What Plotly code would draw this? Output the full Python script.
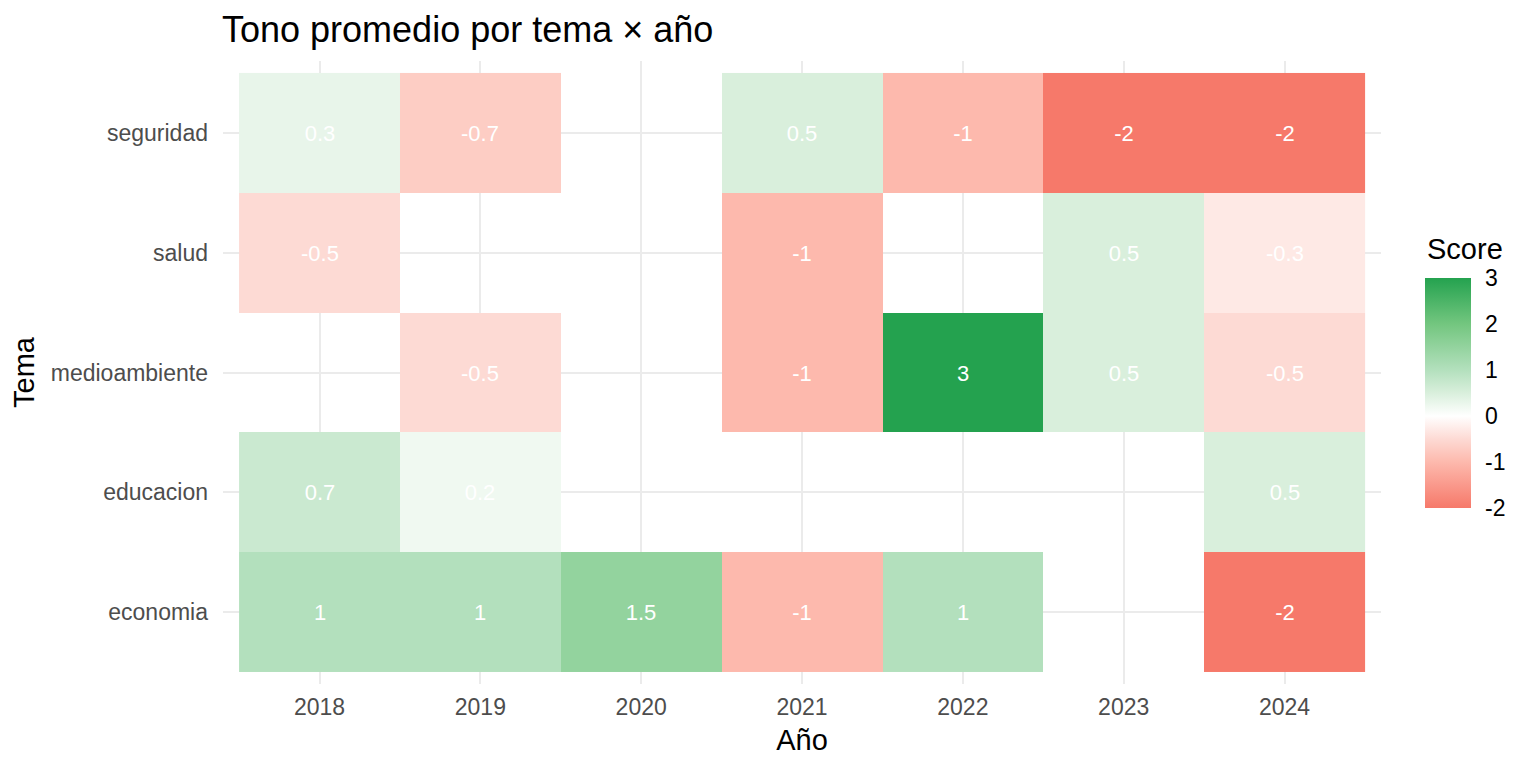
import plotly.graph_objects as go

# data
years = ["2018", "2019", "2020", "2021", "2022", "2023", "2024"]
temas = ["economia", "educacion", "medioambiente", "salud", "seguridad"]

economia = [1, 1, 1.5, -1, 1, None, -2]
educacion = [0.7, 0.2, None, None, None, None, 0.5]
medioambiente = [None, -0.5, None, -1, 3, 0.5, -0.5]
salud = [-0.5, None, None, -1, None, 0.5, -0.3]
seguridad = [0.3, -0.7, None, 0.5, -1, -2, -2]

score_ticks = [-2, -1, 0, 1, 2, 3]

z = [economia, educacion, medioambiente, salud, seguridad]
labels = [["" if v is None else f"{v:g}" for v in row] for row in z]

zmin, zmax = -2, 3
# colours at a few values
stops = [(-2, "#F6796A"), (-1, "#FDB9AD"), (-0.5, "#FDDAD4"), (0, "#FFFFFF"),
         (0.5, "#D9EFDC"), (1, "#B3E0BD"), (1.5, "#93D39E"), (2, "#73C67F"),
         (3, "#24A24F")]
colorscale = [[(v - zmin) / (zmax - zmin), c] for v, c in stops]

FONT = "Liberation Sans, Arial, Helvetica, sans-serif"

fig = go.Figure(go.Heatmap(
    x=years, y=temas, z=z, text=labels, texttemplate="%{text}",
    textfont=dict(color="white", size=22, family=FONT),
    colorscale=colorscale, zmin=zmin, zmax=zmax, hoverongaps=False,
    colorbar=dict(
        tickvals=score_ticks, ticktext=[str(t) for t in score_ticks],
        # invisible outside ticks just to push the labels off the bar
        ticks="outside", ticklen=10, tickcolor="rgba(0,0,0,0)",
        tickfont=dict(size=23, color="black", family=FONT),
        outlinewidth=0, thickness=46, lenmode="pixels", len=230,
        x=1.038, xanchor="left", xpad=0, y=0.467, yanchor="middle", ypad=0,
    ),
))

# legend title as an annotation so it sits where ggplot puts it
fig.add_annotation(text="Score", xref="paper", yref="paper", x=1.038, y=0.699,
                   xanchor="left", yanchor="middle", showarrow=False,
                   font=dict(size=29, color="black", family=FONT))

fig.update_layout(
    width=1536, height=768,
    margin=dict(l=215, r=163, t=53, b=92),
    paper_bgcolor="white", plot_bgcolor="white",
    font=dict(family=FONT),
    title=dict(text="Tono promedio por tema × año", x=214 / 1536, xref="container",
               xanchor="left", y=1 - 21 / 768, yref="container", yanchor="middle",
               font=dict(size=36, color="black", family=FONT)),
)
fig.update_xaxes(type="category", range=[-0.6, 6.6], showgrid=True, gridcolor="#EBEBEB",
                 gridwidth=2.4, zeroline=False, ticks="", showline=False, automargin=False,
                 tickfont=dict(size=23, color="#4D4D4D"), ticklabelstandoff=7,
                 title=dict(text="Año", font=dict(size=29, color="black"), standoff=10))
fig.update_yaxes(type="category", range=[-0.6, 4.6], showgrid=True, gridcolor="#EBEBEB",
                 gridwidth=2.4, zeroline=False, ticks="", showline=False, automargin=False,
                 tickfont=dict(size=23, color="#4D4D4D"), ticklabelstandoff=14,
                 title=dict(text="Tema", font=dict(size=29, color="black"), standoff=12))

fig.write_html("out.html")
